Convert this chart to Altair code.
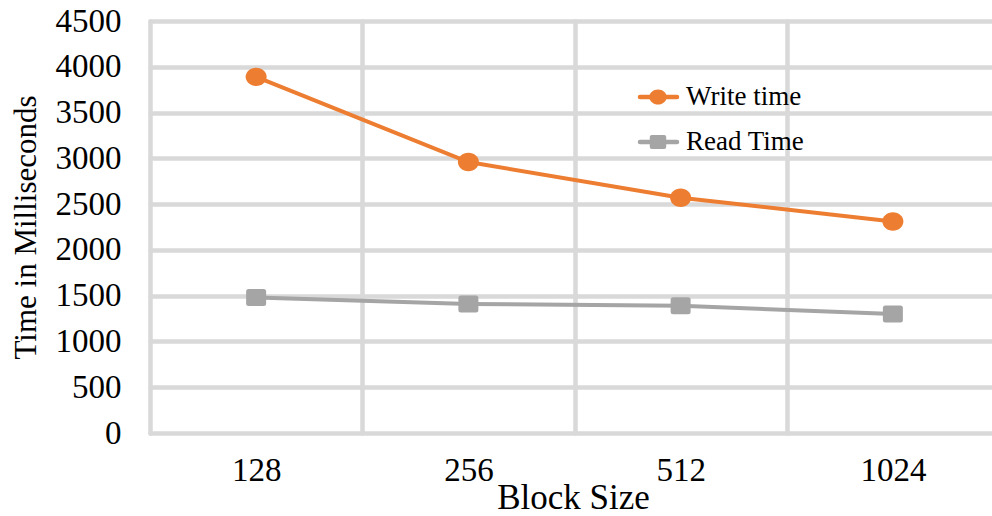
import altair as alt
import pandas as pd

# Block sizes on the x axis and the measured times (ms) for each series
block_sizes = ["128", "256", "512", "1024"]
write_time = [3890, 2960, 2570, 2310]
read_time = [1480, 1410, 1390, 1300]
series_names = ["Write time", "Read Time"]
y_ticks = [0, 500, 1000, 1500, 2000, 2500, 3000, 3500, 4000, 4500]

series_colors = ["#ED7D31", "#A5A5A5"]
ellipse = "M1.05,0 A1.05,0.92 0 1,1 -1.05,0 A1.05,0.92 0 1,1 1.05,0 Z"
rounded_square = ("M-1,-0.6 Q-1,-0.85 -0.75,-0.85 L0.75,-0.85 Q1,-0.85 1,-0.6 "
                  "L1,0.6 Q1,0.85 0.75,0.85 L-0.75,0.85 Q-1,0.85 -1,0.6 Z")
series_shapes = [ellipse, rounded_square]

rows = []
for name, values in zip(series_names, [write_time, read_time]):
    for b, v in zip(block_sizes, values):
        rows.append({"block": b, "ms": v, "series": name})
df = pd.DataFrame(rows)

FONT = "Liberation Serif"
GRID = "#D9D9D9"

x_enc = alt.X(
    "block:N",
    sort=block_sizes,
    bandPosition=0.5,
    scale=alt.Scale(type="band", paddingInner=0, paddingOuter=0, range=[0, 849]),
    axis=alt.Axis(
        title="Block Size",
        titleFont=FONT, titleFontSize=35, titleFontWeight="normal", titleColor="#000000",
        titleX=423, titleY=75, titleBaseline="alphabetic", titleAlign="center",
        labelFont=FONT, labelFontSize=33, labelColor="#000000", labelAngle=0,
        labelPadding=21,
        domain=False, ticks=False, tickBand="extent",
        grid=True, gridColor=GRID, gridWidth=4.5, gridCap="round",
    ),
)
y_enc = alt.Y(
    "ms:Q",
    scale=alt.Scale(domain=[0, 4500], nice=False),
    axis=alt.Axis(
        title="Time in Milliseconds",
        titleFont=FONT, titleFontSize=31, titleFontWeight="normal", titleColor="#000000",
        titleAngle=270, titleX=-115, titleY=206, titleBaseline="alphabetic", titleAlign="center",
        values=y_ticks, format="d",
        labelFont=FONT, labelFontSize=33, labelColor="#000000", labelPadding=29,
        domain=False, ticks=False,
        grid=True, gridColor=GRID, gridWidth=4.5, gridCap="round",
    ),
)
color_enc = alt.Color("series:N", scale=alt.Scale(domain=series_names, range=series_colors), legend=None)
shape_enc = alt.Shape("series:N", scale=alt.Scale(domain=series_names, range=series_shapes), legend=None)

base = alt.Chart(df).encode(x=x_enc, y=y_enc, color=color_enc)
lines = base.mark_line(strokeWidth=4)
points = base.mark_point(filled=True, opacity=1, size=400, strokeWidth=0).encode(shape=shape_enc)

# Legend: short line with a marker and the series name, drawn at fixed spots
legend_layers = []
for i, (name, color, shape) in enumerate(zip(series_names, series_colors, series_shapes)):
    ly = 76 + 45 * i
    src = alt.Chart(pd.DataFrame({"series": [name]}))
    legend_layers.append(
        src.mark_rule(color=color, strokeWidth=4.5, strokeCap="round").encode(
            x=alt.value(490), x2=alt.value(527), y=alt.value(ly)
        )
    )
    legend_layers.append(
        src.mark_point(filled=True, opacity=1, size=270, strokeWidth=0, color=color, shape=shape).encode(
            x=alt.value(508), y=alt.value(ly)
        )
    )
    legend_layers.append(
        src.mark_text(font=FONT, fontSize=27, align="left", baseline="middle", color="#000000").encode(
            x=alt.value(536), y=alt.value(ly), text="series:N"
        )
    )

chart = alt.layer(lines, points, *legend_layers).properties(
    width=842,
    height=412,
    autosize=alt.AutoSizeParams(type="none"),
    padding={"left": 150, "top": 21, "right": 0, "bottom": 83},
    background="#FFFFFF",
).configure_view(stroke=None)

chart.save("out.html", embed_options={"renderer": "svg", "actions": False})
